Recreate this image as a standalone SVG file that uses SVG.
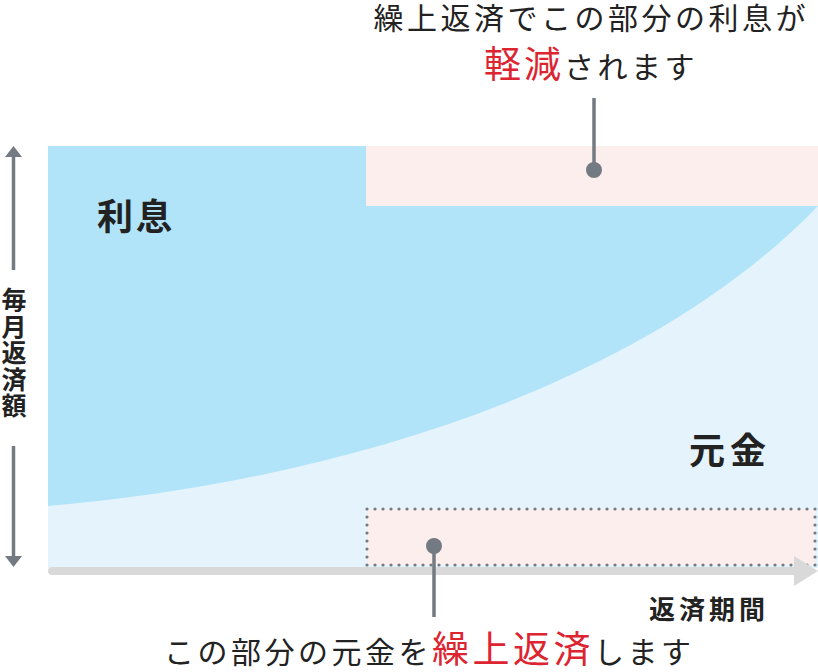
<svg xmlns="http://www.w3.org/2000/svg" width="818" height="672" viewBox="0 0 818 672">
<style>
text{font-family:"Noto Sans CJK JP","Noto Sans CJK SC",sans-serif;fill:#222;}
.b{font-weight:700;}
.r{fill:#dc2530;}
.cl{fill:none;stroke:#737a82;stroke-width:3.5;}
.dot{fill:#737a82;}
</style>
<rect width="818" height="672" fill="#ffffff"/>
<g id="chart">
<rect x="48" y="146" width="770" height="422" fill="#e5f4fc"/>
<path id="interest-area" d="M48,146 H818 V206 C650,380 350,480 48,506 Z" fill="#b1e3f9"/>
<rect id="reduced-interest" x="366" y="146" width="452" height="60" fill="#fdeeee"/>
<rect id="prepaid-principal" x="367" y="509" width="448" height="56" fill="#fdeeee" stroke="#737a82" stroke-width="3.2" stroke-dasharray="0 8" stroke-linecap="round"/>
</g>
<g id="axes">
<rect x="48" y="567" width="756" height="8" rx="4" fill="#d9d9d9"/>
<polygon points="794,556 818,571 794,586" fill="#d9d9d9"/>
<line class="cl" x1="13.5" y1="156" x2="13.5" y2="270"/>
<polygon class="dot" points="13.5,146 22,157 5,157"/>
<line class="cl" x1="13.5" y1="446" x2="13.5" y2="557"/>
<polygon class="dot" points="13.5,567 22,556 5,556"/>
<text class="b" x="14" y="287" font-size="25" letter-spacing="1.5" writing-mode="vertical-rl">毎月返済額</text>
<text class="b" x="649" y="619" font-size="26" letter-spacing="4">返済期間</text>
</g>
<g id="label-interest"><text class="b" x="97" y="230" font-size="36" letter-spacing="3">利息</text></g>
<g id="label-principal"><text class="b" x="689" y="464" font-size="36" letter-spacing="5">元金</text></g>
<g id="connectors">
<line class="cl" x1="594" y1="98" x2="594" y2="170"/>
<circle class="dot" cx="594" cy="170" r="8"/>
<line class="cl" x1="434" y1="546" x2="434" y2="617"/>
<circle class="dot" cx="434" cy="546" r="8"/>
</g>
<g id="callout-top">
<text x="373.5" y="29" font-size="30" letter-spacing="3.5">繰上返済でこの部分の利息が</text>
<text x="484" y="78" font-size="30" letter-spacing="3.5"><tspan class="r" font-size="37" letter-spacing="3">軽減</tspan>されます</text>
</g>
<g id="callout-bottom">
<text x="164" y="663" font-size="30" letter-spacing="3.5">この部分の元金を<tspan class="r" font-size="37" letter-spacing="3.5">繰上返済</tspan>します</text>
</g>
</svg>
